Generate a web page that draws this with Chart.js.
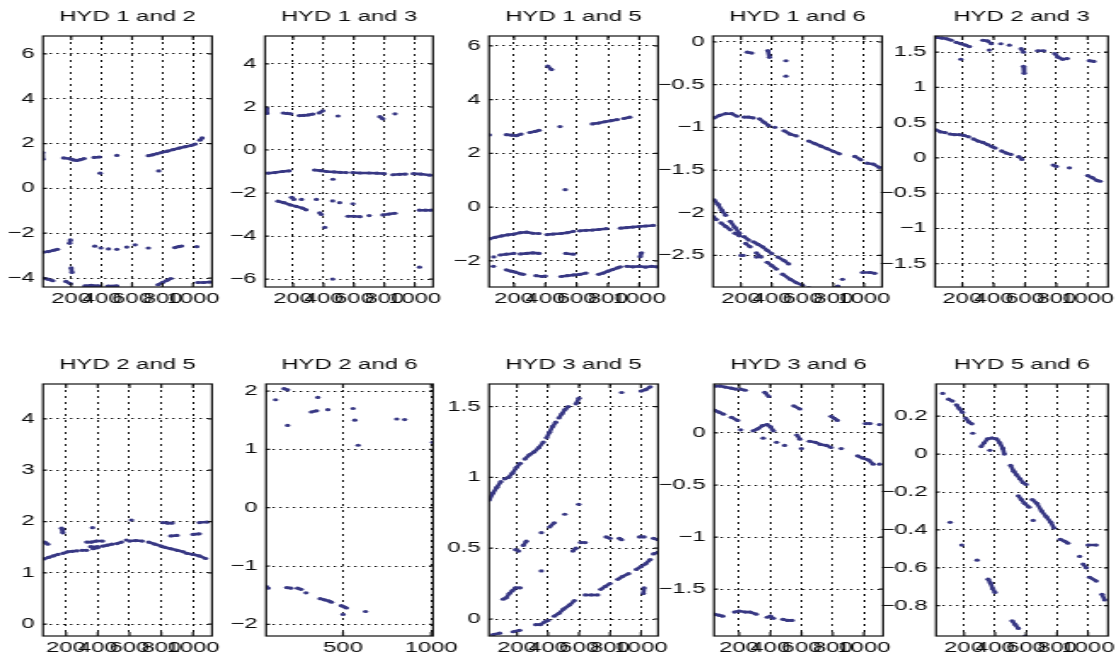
<!DOCTYPE html>
<html>
<head>
<meta charset="utf-8">
<script src="https://cdn.jsdelivr.net/npm/chart.js@4.4.0/dist/chart.umd.min.js"></script>
<style>
  html, body { margin: 0; padding: 0; background: #fff; }
  body { width: 1118px; height: 665px; position: relative; overflow: hidden; }
  .panel { position: absolute; transform-origin: 0 0; }
  .panel canvas { display: block; }
</style>
</head>
<body>
<script>
// Each series is a list of runs: points inside a run sit next to each other
// in the original scatter, so they are joined into short dashes.

const hyd12 = [
  [[12, 1.6], [14, 1.3]],
  [[150, 1.36], [193, 1.32], [215, 1.27], [237, 1.25], [260, 1.28], [285, 1.33]],
  [[350, 1.38], [385, 1.4]],
  [[390, 0.68]],
  [[500, 1.47]],
  [[707, 1.46], [735, 1.5], [765, 1.55]],
  [[790, 1.6], [830, 1.66], [870, 1.73], [910, 1.8], [950, 1.86], [990, 1.92], [1015, 1.98]],
  [[1045, 2.15], [1060, 2.25]],
  [[775, 0.78]],
  [[15, -2.85], [50, -2.82], [85, -2.76], [110, -2.72]],
  [[190, -2.45], [195, -2.3]],
  [[355, -2.58]], [[395, -2.66]], [[445, -2.7]], [[500, -2.72]], [[565, -2.62]], [[620, -2.52]],
  [[707, -2.66]],
  [[880, -2.64], [905, -2.6], [926, -2.57]],
  [[1025, -2.6]],
  [[15, -4.0], [45, -4.05], [80, -4.12]],
  [[165, -4.15], [195, -4.25]],
  [[200, -3.55], [205, -3.75]],
  [[290, -4.35], [330, -4.33], [380, -4.35]],
  [[440, -4.36], [500, -4.35]],
  [[770, -4.3], [800, -4.2], [830, -4.1], [855, -4.02]],
  [[1030, -4.2], [1070, -4.2], [1110, -4.18]]
];

const hyd13 = [
  [[25, 1.95], [28, 1.7]],
  [[135, 1.72], [160, 1.7], [185, 1.68]],
  [[240, 1.6], [270, 1.61], [300, 1.63], [330, 1.67]],
  [[370, 1.72], [395, 1.82]],
  [[495, 1.58]],
  [[770, 1.55], [790, 1.45]],
  [[870, 1.68]],
  [[35, -1.08], [80, -1.05], [130, -1.0], [175, -0.97]],
  [[340, -0.93], [380, -0.96], [420, -1.0], [470, -1.02], [510, -1.04], [550, -1.05]],
  [[590, -1.05], [640, -1.07], [700, -1.07], [750, -1.08], [800, -1.1]],
  [[856, -1.15], [900, -1.13], [940, -1.12]],
  [[990, -1.1], [1040, -1.12], [1100, -1.17]],
  [[462, -1.36]],
  [[100, -2.38], [140, -2.45], [180, -2.55], [220, -2.62], [260, -2.7], [285, -2.78]],
  [[190, -2.2], [205, -2.3]],
  [[255, -2.3]], [[353, -2.3]], [[460, -2.37]], [[506, -2.45]], [[593, -2.5]],
  [[375, -2.92], [385, -3.0]],
  [[408, -3.6]],
  [[560, -3.08], [600, -3.08], [640, -3.1]],
  [[700, -3.05]],
  [[790, -3.02], [830, -2.98], [870, -2.94]],
  [[1030, -2.8], [1070, -2.8], [1107, -2.8]],
  [[460, -6.0]],
  [[1031, -5.45]]
];

const hyd15 = [
  [[42, 2.69]],
  [[150, 2.7], [185, 2.68], [215, 2.66], [245, 2.72]],
  [[300, 2.78], [335, 2.82], [360, 2.86]],
  [[494, 3.0]],
  [[415, 5.25], [440, 5.12]],
  [[527, 0.65]],
  [[700, 3.1], [740, 3.13], [780, 3.18], [820, 3.22], [860, 3.26]],
  [[900, 3.3], [940, 3.35]],
  [[42, -1.18], [80, -1.12], [120, -1.07], [160, -1.03], [200, -1.0], [240, -0.95], [280, -0.93], [320, -0.97], [360, -0.98]],
  [[410, -1.02], [450, -1.0], [500, -0.98], [540, -0.95], [580, -0.9]],
  [[620, -0.88], [660, -0.86], [700, -0.85], [740, -0.83], [790, -0.8]],
  [[880, -0.78], [920, -0.76], [960, -0.74], [1000, -0.72], [1040, -0.7], [1090, -0.68]],
  [[70, -1.85]],
  [[110, -1.78], [150, -1.75], [200, -1.72]],
  [[240, -1.74], [280, -1.72], [320, -1.7], [360, -1.72]],
  [[530, -1.72], [580, -1.75]],
  [[1006, -1.84], [1015, -1.7]],
  [[68, -2.2]],
  [[150, -2.33], [180, -2.38], [210, -2.42], [240, -2.48], [260, -2.5]],
  [[340, -2.55], [380, -2.58], [400, -2.56]],
  [[500, -2.58], [540, -2.55], [580, -2.52], [620, -2.5], [660, -2.45]],
  [[740, -2.5], [770, -2.45], [800, -2.38], [830, -2.32], [860, -2.26], [880, -2.22]],
  [[920, -2.2], [960, -2.22], [1000, -2.2], [1040, -2.23], [1080, -2.2], [1110, -2.22]]
];

const hyd16 = [
  [[240, -0.12], [270, -0.13]],
  [[375, -0.1], [385, -0.18]],
  [[492, -0.22]],
  [[492, -0.4]],
  [[25, -0.89], [60, -0.86], [100, -0.84], [140, -0.84], [175, -0.87]],
  [[220, -0.88], [250, -0.88], [280, -0.89]],
  [[320, -0.9], [350, -0.94], [380, -0.98]],
  [[420, -1.0]],
  [[480, -1.04], [520, -1.08], [560, -1.1]],
  [[640, -1.16], [680, -1.19], [720, -1.22], [760, -1.25], [800, -1.28], [840, -1.31]],
  [[940, -1.34], [980, -1.38]],
  [[1020, -1.42], [1060, -1.43], [1100, -1.47]],
  [[25, -1.85], [50, -1.9], [75, -1.97], [100, -2.03]],
  [[130, -2.1], [160, -2.17], [190, -2.24]],
  [[220, -2.28], [250, -2.32]],
  [[280, -2.34], [310, -2.37], [340, -2.4], [370, -2.44], [400, -2.48]],
  [[440, -2.52], [480, -2.56], [510, -2.6]],
  [[15, -2.04], [40, -2.08]],
  [[70, -2.12], [100, -2.16], [130, -2.2]],
  [[160, -2.24], [190, -2.27]],
  [[230, -2.36], [260, -2.4]],
  [[300, -2.47], [330, -2.52]],
  [[370, -2.58], [400, -2.62], [430, -2.66]],
  [[470, -2.72], [520, -2.78], [560, -2.82], [600, -2.85]],
  [[640, -2.88], [680, -2.9], [720, -2.9], [760, -2.9], [800, -2.89], [830, -2.86]],
  [[860, -2.78]],
  [[990, -2.7], [1040, -2.7], [1070, -2.71]],
  [[200, -2.5]], [[215, -2.5]], [[300, -2.52]]
];

const hyd23 = [
  [[35, 1.71], [70, 1.7], [100, 1.69], [130, 1.67]],
  [[160, 1.64], [190, 1.62], [220, 1.6], [245, 1.58]],
  [[190, 1.4]],
  [[330, 1.67], [360, 1.66], [385, 1.62]],
  [[371, 1.53]],
  [[445, 1.62]], [[500, 1.6]],
  [[575, 1.55], [590, 1.5]],
  [[590, 1.3], [595, 1.2]],
  [[680, 1.52], [720, 1.52]],
  [[790, 1.48], [810, 1.43], [840, 1.4], [870, 1.41]],
  [[1010, 1.38], [1040, 1.37]],
  [[30, 0.4], [60, 0.37], [90, 0.36]],
  [[120, 0.34], [150, 0.33], [180, 0.33], [210, 0.32], [240, 0.3]],
  [[270, 0.27], [300, 0.24], [330, 0.22], [360, 0.19], [390, 0.16], [410, 0.14]],
  [[450, 0.1], [480, 0.07], [510, 0.05]],
  [[560, 0.02], [580, -0.02]],
  [[780, -0.1], [800, -0.12]],
  [[883, -0.14]],
  [[1000, -0.25], [1030, -0.28], [1060, -0.32], [1080, -0.33]]
];

const hyd25 = [
  [[60, 1.27], [90, 1.3], [120, 1.33], [150, 1.36]],
  [[180, 1.38], [210, 1.41], [240, 1.42], [270, 1.43]],
  [[300, 1.44], [330, 1.44]],
  [[370, 1.47], [400, 1.49]],
  [[430, 1.52], [460, 1.54], [490, 1.56]],
  [[520, 1.57], [550, 1.6]],
  [[600, 1.62], [640, 1.63], [680, 1.62]],
  [[720, 1.6], [760, 1.56], [800, 1.52]],
  [[820, 1.5], [860, 1.47], [900, 1.44], [940, 1.41]],
  [[960, 1.38], [1000, 1.36], [1040, 1.33], [1080, 1.28]],
  [[65, 1.6], [85, 1.56]],
  [[330, 1.6], [360, 1.6], [390, 1.62], [430, 1.62]],
  [[355, 1.51], [400, 1.51]],
  [[580, 1.64]],
  [[172, 1.87], [180, 1.78]],
  [[612, 2.03]],
  [[810, 1.98], [840, 1.97], [870, 1.97]],
  [[860, 1.72], [900, 1.73]],
  [[1000, 1.75], [1040, 1.76]],
  [[1040, 1.98], [1090, 1.99]],
  [[367, 1.88]]
];

const hyd26 = [
  [[117, 1.85]],
  [[165, 2.04], [185, 2.02]],
  [[185, 1.41]],
  [[357, 1.89]],
  [[320, 1.64], [350, 1.66]],
  [[414, 1.68]],
  [[557, 1.7]], [[567, 1.5]], [[586, 1.07]],
  [[805, 1.52]], [[850, 1.51]],
  [[1010, 1.12]],
  [[63, -1.35], [75, -1.38]],
  [[180, -1.37], [205, -1.38]],
  [[242, -1.38], [262, -1.4]],
  [[290, -1.46]],
  [[370, -1.56], [395, -1.58], [420, -1.6], [435, -1.62]],
  [[490, -1.68], [505, -1.7], [520, -1.72]],
  [[500, -1.83]],
  [[628, -1.78]]
];

const hyd35 = [
  [[20, 0.84], [45, 0.89], [70, 0.93], [95, 0.97]],
  [[120, 0.99], [145, 1.0], [170, 1.03], [195, 1.07], [220, 1.1]],
  [[250, 1.13], [280, 1.16], [310, 1.18], [340, 1.21], [370, 1.25]],
  [[390, 1.28], [410, 1.32], [430, 1.36], [450, 1.39]],
  [[470, 1.42], [490, 1.45], [510, 1.48], [530, 1.5]],
  [[580, 1.52], [600, 1.56]],
  [[875, 1.6]],
  [[1000, 1.61], [1030, 1.62], [1060, 1.64]],
  [[110, 0.14], [130, 0.15], [150, 0.18], [170, 0.2], [190, 0.22], [220, 0.22]],
  [[190, 0.49], [210, 0.48]],
  [[240, 0.52], [260, 0.55]],
  [[357, 0.61]], [[357, 0.34]],
  [[410, 0.65], [440, 0.68]],
  [[508, 0.74]],
  [[560, 0.48], [580, 0.5]],
  [[610, 0.54], [640, 0.54]],
  [[598, 0.81]],
  [[775, 0.58], [800, 0.57]],
  [[860, 0.57], [875, 0.56]],
  [[990, 0.58], [1020, 0.58]],
  [[1080, 0.57], [1110, 0.56]],
  [[45, -0.11], [88, -0.1]],
  [[174, -0.09], [217, -0.08]],
  [[320, -0.04], [350, -0.04], [380, -0.02], [400, -0.01]],
  [[440, 0.02], [470, 0.04], [500, 0.07], [540, 0.1], [570, 0.13]],
  [[640, 0.17], [680, 0.17], [720, 0.17]],
  [[740, 0.21], [770, 0.23], [800, 0.25]],
  [[850, 0.28], [880, 0.3], [920, 0.32]],
  [[970, 0.35], [1000, 0.37], [1030, 0.39], [1060, 0.42]],
  [[1080, 0.46], [1110, 0.47]],
  [[1015, 0.18], [1020, 0.22]]
];

const hyd36 = [
  [[45, 0.45], [80, 0.45], [110, 0.44], [150, 0.43], [180, 0.42]],
  [[210, 0.42], [240, 0.41]],
  [[364, 0.39], [390, 0.35]],
  [[550, 0.26], [590, 0.23]],
  [[790, 0.16], [810, 0.14], [830, 0.12]],
  [[1010, 0.09], [1040, 0.09]],
  [[1100, 0.08]],
  [[40, 0.22], [70, 0.2], [100, 0.18]],
  [[150, 0.15], [190, 0.12]],
  [[210, 0.03]],
  [[290, 0.02], [320, 0.04], [350, 0.07], [380, 0.08], [400, 0.06], [420, 0.02]],
  [[354, -0.05]], [[440, -0.09]], [[492, -0.12]],
  [[570, -0.02], [590, -0.06]],
  [[600, -0.15]],
  [[650, -0.08], [690, -0.09], [720, -0.11], [760, -0.12], [790, -0.14]],
  [[855, -0.15]],
  [[960, -0.22], [990, -0.24], [1030, -0.26], [1060, -0.3]],
  [[1100, -0.3]],
  [[40, -1.74], [70, -1.75], [95, -1.76]],
  [[170, -1.72], [200, -1.71], [240, -1.72], [270, -1.72], [310, -1.74]],
  [[380, -1.77], [400, -1.76], [420, -1.78]],
  [[480, -1.79], [510, -1.8], [540, -1.8]]
];

const hyd56 = [
  [[62, 0.32]],
  [[100, 0.29], [125, 0.28]],
  [[150, 0.26], [170, 0.24], [190, 0.22]],
  [[210, 0.19], [230, 0.17], [250, 0.16]],
  [[256, 0.11]],
  [[310, 0.04], [330, 0.06], [350, 0.08], [380, 0.085], [410, 0.08], [430, 0.06], [450, 0.03], [460, 0.0]],
  [[367, 0.02]],
  [[500, -0.06], [520, -0.09], [540, -0.11], [560, -0.13], [580, -0.15], [600, -0.16]],
  [[550, -0.22], [570, -0.24], [590, -0.26], [620, -0.28]],
  [[640, -0.24], [670, -0.26], [700, -0.3], [730, -0.33], [760, -0.36], [780, -0.39]],
  [[646, -0.35]],
  [[820, -0.45], [850, -0.46], [870, -0.47]],
  [[185, -0.48]], [[110, -0.36]], [[284, -0.56]],
  [[946, -0.54]],
  [[968, -0.58], [989, -0.6]],
  [[1010, -0.65], [1053, -0.67]],
  [[1000, -0.48], [1053, -0.48]],
  [[1090, -0.74], [1107, -0.77]],
  [[355, -0.66], [370, -0.68], [385, -0.71], [400, -0.73]],
  [[510, -0.88], [530, -0.9], [550, -0.92]],
  [[595, -0.96]]
];

// tick values
const xTicksStd = [200, 400, 600, 800, 1000];
const xTicks26 = [500, 1000];
const yTicks12 = [-4, -2, 0, 2, 4, 6];
const yTicks13 = [-6, -4, -2, 0, 2, 4];
const yTicks15 = [-2, 0, 2, 4, 6];
const yTicks16 = [-2.5, -2, -1.5, -1, -0.5, 0];
const yTicks23 = [-1.5, -1, -0.5, 0, 0.5, 1, 1.5];
const yTicks25 = [0, 1, 2, 3, 4];
const yTicks26 = [-2, -1, 0, 1, 2];
const yTicks35 = [0, 0.5, 1, 1.5];
const yTicks36 = [-1.5, -1, -0.5, 0];
const yTicks56 = [-0.8, -0.6, -0.4, -0.2, 0, 0.2];

// box = plot area on the page [left, top, right, bottom]
const panels = [
  { title: 'HYD 1 and 2', runs: hyd12, xTicks: xTicksStd, yTicks: yTicks12, x: [15, 1125], y: [-4.4, 6.8],   box: [43, 36, 212, 287] },
  { title: 'HYD 1 and 3', runs: hyd13, xTicks: xTicksStd, yTicks: yTicks13, x: [15, 1120], y: [-6.37, 5.3],  box: [265, 36, 433, 287] },
  { title: 'HYD 1 and 5', runs: hyd15, xTicks: xTicksStd, yTicks: yTicks15, x: [40, 1120], y: [-2.97, 6.37], box: [489, 36, 658, 287] },
  { title: 'HYD 1 and 6', runs: hyd16, xTicks: xTicksStd, yTicks: yTicks16, x: [18, 1117], y: [-2.87, 0.07], box: [713, 36, 882, 287] },
  { title: 'HYD 2 and 3', runs: hyd23, xTicks: xTicksStd, yTicks: yTicks23, x: [25, 1130], y: [-1.83, 1.73], box: [935, 36, 1108, 287] },
  { title: 'HYD 2 and 5', runs: hyd25, xTicks: xTicksStd, yTicks: yTicks25, x: [55, 1120], y: [-0.23, 4.68], box: [43, 384, 212, 636] },
  { title: 'HYD 2 and 6', runs: hyd26, xTicks: xTicks26,  yTicks: yTicks26, x: [63, 1011], y: [-2.2, 2.12],  box: [266, 384, 433, 636] },
  { title: 'HYD 3 and 5', runs: hyd35, xTicks: xTicksStd, yTicks: yTicks35, x: [19, 1110], y: [-0.12, 1.66], box: [489, 384, 658, 636] },
  { title: 'HYD 3 and 6', runs: hyd36, xTicks: xTicksStd, yTicks: yTicks36, x: [39, 1123], y: [-1.95, 0.47], box: [714, 384, 883, 636] },
  { title: 'HYD 5 and 6', runs: hyd56, xTicks: xTicksStd, yTicks: yTicks56, x: [19, 1129], y: [-0.96, 0.37], box: [936, 384, 1108, 636] }
];

const FONT = { family: '"Liberation Sans", Arial, Helvetica, sans-serif', size: 14, weight: 'normal' };
const TEXT = '#0a0a0a';
const DOT = '#383884';
const GRID = '#111';
const STRETCH = 1.7;   // the original glyphs are drawn wide
const Y_AXIS_W = 60;   // page px left of plot for tick labels
const PAD_R = 30;      // room for the last x label
const TITLE_H = 27;
const X_AXIS_H = 30;

function toPoints(runs) {
  const pts = [];
  runs.forEach(run => {
    run.forEach(([x, y]) => pts.push({ x, y }));
    pts.push({ x: null, y: null }); // break the line between runs
  });
  return pts;
}

function fmtY(v) {
  return v < 0 ? '\u2212' + String(Math.abs(v)) : String(v);
}

// MATLAB style: full box and inward ticks on all sides
function makeBox(k) {
  return {
    id: 'box',
    afterDraw(chart) {
      const { ctx, chartArea: a, scales } = chart;
      ctx.save();
      ctx.strokeStyle = '#111';
      ctx.lineWidth = 1.2;
      ctx.strokeRect(a.left, a.top, a.right - a.left, a.bottom - a.top);
      ctx.beginPath();
      scales.x.ticks.forEach(t => {
        const px = scales.x.getPixelForValue(t.value);
        ctx.moveTo(px, a.bottom); ctx.lineTo(px, a.bottom - 4);
        ctx.moveTo(px, a.top); ctx.lineTo(px, a.top + 4);
      });
      const tl = 4 / k;
      scales.y.ticks.forEach(t => {
        const py = scales.y.getPixelForValue(t.value);
        ctx.moveTo(a.left, py); ctx.lineTo(a.left + tl, py);
        ctx.moveTo(a.right, py); ctx.lineTo(a.right - tl, py);
      });
      ctx.stroke();
      ctx.restore();
    }
  };
}

panels.forEach(p => {
  const [L, T, R, B] = p.box;
  const fullW = R - L + Y_AXIS_W + PAD_R;
  const w = Math.round(fullW / STRETCH);
  const k = fullW / w;
  const h = Math.round(B - T + TITLE_H + X_AXIS_H);

  const wrap = document.createElement('div');
  wrap.className = 'panel';
  wrap.style.left = (L - Y_AXIS_W) + 'px';
  wrap.style.top = (T - TITLE_H) + 'px';
  wrap.style.transform = 'scaleX(' + k + ')';
  const cv = document.createElement('canvas');
  cv.width = w;
  cv.height = h;
  cv.style.width = w + 'px';
  cv.style.height = h + 'px';
  wrap.appendChild(cv);
  document.body.appendChild(wrap);

  new Chart(cv, {
    type: 'scatter',
    data: {
      datasets: [{
        data: toPoints(p.runs),
        showLine: true,
        spanGaps: false,
        tension: 0,
        borderColor: DOT,
        backgroundColor: DOT,
        borderWidth: 2.6,
        pointRadius: 1.6,
        pointHoverRadius: 1.6,
        pointBorderWidth: 0
      }]
    },
    options: {
      responsive: false,
      animation: false,
      devicePixelRatio: 1,
      events: [],
      layout: { padding: { left: 0, right: PAD_R / k, top: 0, bottom: 0 } },
      plugins: {
        legend: { display: false },
        tooltip: { enabled: false },
        title: {
          display: true,
          text: p.title,
          fullSize: false,
          color: TEXT,
          font: FONT,
          padding: { top: 0, bottom: TITLE_H - FONT.size * 1.2 }
        }
      },
      scales: {
        x: {
          type: 'linear',
          min: p.x[0],
          max: p.x[1],
          afterBuildTicks: s => { s.ticks = p.xTicks.map(v => ({ value: v })); },
          afterFit: s => { s.height = X_AXIS_H; s.paddingLeft = 0; s.paddingRight = 0; },
          ticks: {
            autoSkip: false, maxRotation: 0, minRotation: 0, padding: 4,
            color: TEXT, font: FONT, callback: v => String(v)
          },
          grid: { color: GRID, lineWidth: 1, drawTicks: false },
          border: { display: false, dash: [2, 4] }
        },
        y: {
          type: 'linear',
          min: p.y[0],
          max: p.y[1],
          afterBuildTicks: s => { s.ticks = p.yTicks.map(v => ({ value: v })); },
          afterFit: s => { s.width = Y_AXIS_W / k; s.paddingTop = 0; s.paddingBottom = 0; },
          ticks: { padding: 5, color: TEXT, font: FONT, callback: v => fmtY(v) },
          grid: { color: GRID, lineWidth: 1, drawTicks: false },
          border: { display: false, dash: [1.4, 2.6] }
        }
      }
    },
    plugins: [makeBox(k)]
  });
});
</script>
</body>
</html>
